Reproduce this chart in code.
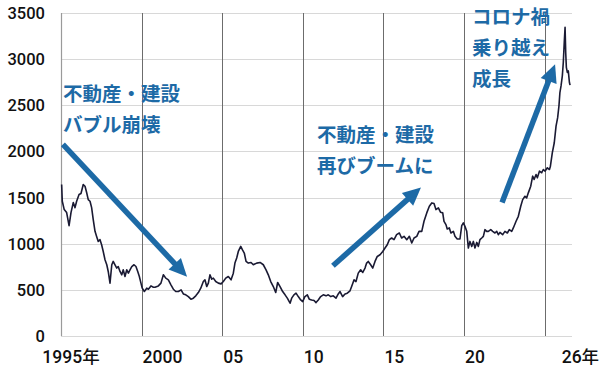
<!DOCTYPE html>
<html lang="ja">
<head>
<meta charset="utf-8">
<script src="https://cdn.jsdelivr.net/npm/d3@7"></script>
<style>
  body { margin: 0; background: #fff; }
  svg { display: block; }
</style>
</head>
<body>
<div id="chart"></div>
<script>
// price index (decimal year, value)
const years = [
  1995.04, 1995.08, 1995.2, 1995.35, 1995.5, 1995.62, 1995.76, 1995.87, 1995.97,
  1996.12, 1996.24, 1996.38, 1996.49, 1996.59, 1996.69, 1996.8, 1996.9,
  1997.0, 1997.11, 1997.21, 1997.31, 1997.42, 1997.52, 1997.62, 1997.73, 1997.84, 1997.93,
  1998.04, 1998.15, 1998.24, 1998.35, 1998.46, 1998.55, 1998.66, 1998.77, 1998.86, 1998.97,
  1999.08, 1999.18, 1999.28, 1999.39, 1999.53, 1999.65, 1999.76, 1999.86, 1999.96,
  2000.04, 2000.17, 2000.32, 2000.42, 2000.58, 2000.73, 2000.83,
  2001.04, 2001.2, 2001.35, 2001.5, 2001.66, 2001.82, 2001.97,
  2002.12, 2002.28, 2002.45, 2002.59, 2002.74, 2002.9,
  2003.06, 2003.21, 2003.36, 2003.52, 2003.67, 2003.83, 2003.93,
  2004.04, 2004.14, 2004.24, 2004.35, 2004.45, 2004.6, 2004.76, 2004.93,
  2005.07, 2005.22, 2005.38, 2005.55, 2005.69, 2005.79, 2005.9,
  2006.0, 2006.15, 2006.25, 2006.37, 2006.48, 2006.62, 2006.79, 2006.93,
  2007.14, 2007.35, 2007.55, 2007.72, 2007.86,
  2008.01, 2008.17, 2008.32, 2008.44, 2008.59, 2008.75, 2008.9,
  2009.04, 2009.21, 2009.31, 2009.45, 2009.58, 2009.72, 2009.87, 2009.99,
  2010.13, 2010.28, 2010.4, 2010.55, 2010.7, 2010.82, 2010.96,
  2011.11, 2011.27, 2011.44, 2011.58, 2011.74, 2011.89,
  2012.06, 2012.2, 2012.31, 2012.47, 2012.62, 2012.76, 2012.93,
  2013.03, 2013.18, 2013.3, 2013.44, 2013.59, 2013.72, 2013.86, 2013.96,
  2014.06, 2014.21, 2014.34, 2014.48, 2014.62, 2014.79, 2014.96,
  2015.1, 2015.24, 2015.37, 2015.51, 2015.66, 2015.82, 2015.99,
  2016.13, 2016.28, 2016.45, 2016.61, 2016.76, 2016.9,
  2017.07, 2017.21, 2017.38, 2017.52, 2017.69, 2017.85,
  2018.0, 2018.14, 2018.26, 2018.41, 2018.55, 2018.68, 2018.76, 2018.88, 2018.96,
  2019.09, 2019.19, 2019.34, 2019.44, 2019.58, 2019.75, 2019.86, 2019.96,
  2020.06, 2020.17, 2020.27, 2020.37, 2020.48, 2020.58, 2020.68, 2020.79, 2020.89, 2020.99,
  2021.1, 2021.2, 2021.3, 2021.41, 2021.51, 2021.66, 2021.78, 2021.92,
  2022.03, 2022.13, 2022.23, 2022.4, 2022.54, 2022.69, 2022.81, 2022.96,
  2023.06, 2023.23, 2023.37, 2023.52, 2023.64, 2023.78, 2023.89, 2023.99,
  2024.14, 2024.26, 2024.35, 2024.47, 2024.55, 2024.68, 2024.82, 2024.92,
  2025.03, 2025.17, 2025.3, 2025.36, 2025.48, 2025.6, 2025.71, 2025.81, 2025.89, 2025.95,
  2026.02, 2026.1, 2026.16, 2026.22, 2026.27, 2026.31, 2026.35, 2026.41, 2026.47, 2026.54, 2026.58,
];
const values = [
  1641, 1460, 1370, 1337, 1196, 1337, 1446, 1391, 1460,
  1533, 1544, 1641, 1623, 1555, 1478, 1460, 1391,
  1261, 1134, 1079, 1025, 1044, 989, 916, 826, 772, 699,
  573, 772, 808, 772, 736, 753, 699, 663, 717, 645,
  717, 681, 717, 753, 772, 753, 699, 645, 573,
  518, 482, 518, 507, 543, 529, 529,
  543, 573, 663, 627, 609, 554, 507,
  482, 482, 500, 456, 446, 427,
  399, 410, 435, 471, 518, 590, 609,
  536, 573, 663, 616, 627, 590, 573, 565,
  590, 627, 645, 609, 681, 790, 845,
  916, 971, 935, 899, 808, 790, 797, 772,
  790, 797, 772, 717, 663,
  590, 536, 471, 580, 536, 482, 446,
  410, 355, 410, 446, 464, 427, 391, 373,
  427, 446, 399, 391, 384, 362, 391,
  427, 446, 435, 446, 427, 435,
  410, 456, 482, 427, 456, 464, 490,
  536, 609, 590, 681, 717, 688, 736, 790,
  808, 772, 736, 808, 862, 880, 916,
  953, 989, 1044, 1062, 1044, 1098, 1116,
  1062, 1080, 1044, 1080, 1008, 1062,
  1080, 1134, 1134, 1243, 1334, 1406,
  1442, 1435, 1370, 1388, 1340, 1334, 1243, 1207, 1160,
  1171, 1116, 1134, 1080, 1051, 1051, 1196, 1225,
  1188, 1134, 953, 1025, 971, 1025, 953, 1014, 971, 1044,
  1062, 1080, 1152, 1134, 1134, 1152, 1134, 1116,
  1134, 1098, 1123, 1098, 1134, 1116, 1152, 1134,
  1171, 1243, 1297, 1406, 1478, 1514, 1497, 1551,
  1623, 1732, 1696, 1750, 1714, 1786, 1769, 1804,
  1786, 1823, 1804, 1840, 1986, 2094, 2275, 2366, 2492, 2638,
  2710, 2819, 2964, 3182, 3345, 3073, 2910, 2856, 2873, 2747, 2718,
];

const yTicks = [0, 500, 1000, 1500, 2000, 2500, 3000, 3500];
const xGridYears = [2000, 2005, 2010, 2015, 2020, 2025];
const xLabelYears = [1995, 2000, 2005, 2010, 2015, 2020, 2026];
const xLabels = ['1995年', '2000', '05', '10', '15', '20', '26年'];

// annotations in data space
const noteLines = [
  ['不動産・建設', 'バブル崩壊'],
  ['不動産・建設', '再びブームに'],
  ['コロナ禍', '乗り越え', '成長'],
];
const noteAt = [
  [1995.12, 2620],
  [2010.88, 2180],
  [2020.5, 3455],
];
const arrowFrom = [
  [1995.12, 2076],
  [2011.87, 761],
  [2022.36, 1446],
];
const arrowTo = [
  [2002.82, 641],
  [2017.33, 1609],
  [2025.65, 2946],
];

const width = 600;
const height = 370;
const margin = { top: 13, right: 28, bottom: 34, left: 61 };
const blue = '#1d6aa6';
const tickFont = 'Roboto, "Noto Sans CJK JP", sans-serif';

const svg = d3
  .select('#chart')
  .append('svg')
  .attr('width', width)
  .attr('height', height);

svg.append('rect').attr('width', width).attr('height', height).attr('fill', '#fff');

const x = d3
  .scaleLinear()
  .domain([1995, 2026.7])
  .range([margin.left, width - margin.right]);

const y = d3
  .scaleLinear()
  .domain([0, 3500])
  .range([height - margin.bottom, margin.top]);

// horizontal grid
svg
  .append('g')
  .selectAll('line')
  .data(yTicks)
  .join('line')
  .attr('x1', x.range()[0])
  .attr('x2', x.range()[1])
  .attr('y1', (d) => Math.round(y(d)) + 0.5)
  .attr('y2', (d) => Math.round(y(d)) + 0.5)
  .attr('stroke', '#d8d8d8')
  .attr('stroke-width', 1);

// vertical grid
svg
  .append('g')
  .selectAll('line')
  .data(xGridYears)
  .join('line')
  .attr('x1', (d) => Math.round(x(d)) + 0.5)
  .attr('x2', (d) => Math.round(x(d)) + 0.5)
  .attr('y1', y(3500))
  .attr('y2', y(0))
  .attr('stroke', '#6c6c6c')
  .attr('stroke-width', 1);

// left axis line
svg
  .append('line')
  .attr('x1', Math.round(x(1995)) + 0.5)
  .attr('x2', Math.round(x(1995)) + 0.5)
  .attr('y1', y(3500))
  .attr('y2', y(0))
  .attr('stroke', '#9a9a9a')
  .attr('stroke-width', 1.2);

// y labels
svg
  .append('g')
  .selectAll('text')
  .data(yTicks)
  .join('text')
  .attr('x', margin.left - 16)
  .attr('y', (d) => y(d))
  .attr('dy', '0.36em')
  .attr('text-anchor', 'end')
  .attr('font-family', tickFont)
  .attr('font-weight', 500)
  .attr('font-size', 16.5)
  .attr('fill', '#111')
  .text((d) => d);

// x labels
svg
  .append('g')
  .selectAll('text')
  .data(xLabelYears)
  .join('text')
  .attr('x', (d, i) => (i === 0 ? x(d) + 10 : x(d) + 1))
  .attr('y', height - 13)
  .attr('dy', '0.36em')
  .attr('text-anchor', (d, i) => (i === 0 ? 'middle' : 'start'))
  .attr('font-family', tickFont)
  .attr('font-weight', 500)
  .attr('font-size', 17.5)
  .attr('fill', '#111')
  .text((d, i) => xLabels[i]);

// price line
const series = years.map((yr, i) => ({ year: yr, value: values[i] }));

svg
  .append('path')
  .datum(series)
  .attr('fill', 'none')
  .attr('stroke', '#1a1a33')
  .attr('stroke-width', 1.6)
  .attr('stroke-linejoin', 'round')
  .attr(
    'd',
    d3
      .line()
      .x((d) => x(d.year))
      .y((d) => y(d.value))
  );

// arrows
const headLen = 18;
const headHalf = 8.5;
arrowFrom.forEach((from, i) => {
  const x0 = x(from[0]);
  const y0 = y(from[1]);
  const x1 = x(arrowTo[i][0]);
  const y1 = y(arrowTo[i][1]);
  const len = Math.hypot(x1 - x0, y1 - y0);
  const ux = (x1 - x0) / len;
  const uy = (y1 - y0) / len;
  const bx = x1 - ux * headLen;
  const by = y1 - uy * headLen;

  svg
    .append('line')
    .attr('x1', x0)
    .attr('y1', y0)
    .attr('x2', bx + ux * 2)
    .attr('y2', by + uy * 2)
    .attr('stroke', blue)
    .attr('stroke-width', 5.5);

  svg
    .append('path')
    .attr('fill', blue)
    .attr(
      'd',
      `M${x1},${y1}L${bx - uy * headHalf},${by + ux * headHalf}L${bx + uy * headHalf},${by - ux * headHalf}Z`
    );
});

// annotation text
noteLines.forEach((lines, i) => {
  const t = svg
    .append('text')
    .attr('x', x(noteAt[i][0]))
    .attr('y', y(noteAt[i][1]))
    .attr('font-family', '"Noto Sans CJK JP", sans-serif')
    .attr('font-weight', 'bold')
    .attr('font-size', 19.5)
    .attr('fill', blue);

  lines.forEach((line, j) => {
    t.append('tspan')
      .attr('x', x(noteAt[i][0]))
      .attr('dy', j === 0 ? '0.36em' : 31)
      .text(line);
  });
});
</script>
</body>
</html>
